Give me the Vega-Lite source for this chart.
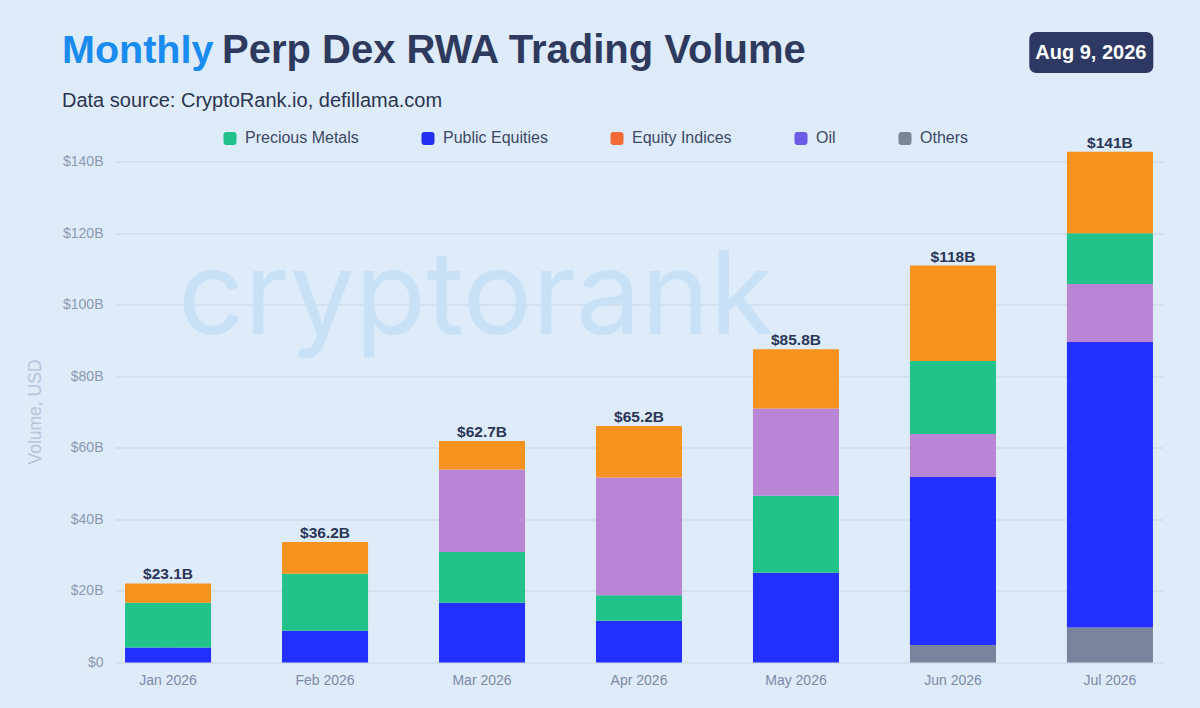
{
  "$schema": "https://vega.github.io/schema/vega-lite/v6.json",
  "width": 1048,
  "height": 515,
  "autosize": {"type": "none"},
  "padding": {"left": 115, "top": 147.5, "right": 37, "bottom": 45.5},
  "background": "#deebf8",
  "config": {"view": {"stroke": null}, "font": "Liberation Sans"},
  "title": {
    "text": "Monthly",
    "subtitle": "Data source: CryptoRank.io, defillama.com",
    "anchor": "start",
    "frame": "group",
    "dx": -53,
    "offset": -81,
    "font": "Liberation Sans",
    "fontSize": 39.5,
    "fontWeight": "bold",
    "color": "#1a8cf0",
    "subtitleFont": "Liberation Sans",
    "subtitleFontSize": 20,
    "subtitleColor": "#2b3550",
    "subtitlePadding": 20
  },
  "datasets": {
    "volumes": [
      {"month": "Jan 2026", "category": "Public Equities", "value": 4.2, "rank": 2},
      {"month": "Jan 2026", "category": "Precious Metals", "value": 12.5, "rank": 3},
      {"month": "Jan 2026", "category": "Equity Indices", "value": 5.4, "rank": 5},
      {"month": "Feb 2026", "category": "Public Equities", "value": 8.9, "rank": 2},
      {"month": "Feb 2026", "category": "Precious Metals", "value": 15.9, "rank": 3},
      {"month": "Feb 2026", "category": "Equity Indices", "value": 8.9, "rank": 5},
      {"month": "Mar 2026", "category": "Public Equities", "value": 16.7, "rank": 2},
      {"month": "Mar 2026", "category": "Precious Metals", "value": 14.2, "rank": 3},
      {"month": "Mar 2026", "category": "Oil", "value": 23.1, "rank": 4},
      {"month": "Mar 2026", "category": "Equity Indices", "value": 7.9, "rank": 5},
      {"month": "Apr 2026", "category": "Public Equities", "value": 11.7, "rank": 2},
      {"month": "Apr 2026", "category": "Precious Metals", "value": 7.1, "rank": 3},
      {"month": "Apr 2026", "category": "Oil", "value": 32.9, "rank": 4},
      {"month": "Apr 2026", "category": "Equity Indices", "value": 14.4, "rank": 5},
      {"month": "May 2026", "category": "Public Equities", "value": 25.1, "rank": 2},
      {"month": "May 2026", "category": "Precious Metals", "value": 21.5, "rank": 3},
      {"month": "May 2026", "category": "Oil", "value": 24.4, "rank": 4},
      {"month": "May 2026", "category": "Equity Indices", "value": 16.6, "rank": 5},
      {"month": "Jun 2026", "category": "Others", "value": 4.9, "rank": 1},
      {"month": "Jun 2026", "category": "Public Equities", "value": 47.0, "rank": 2},
      {"month": "Jun 2026", "category": "Oil", "value": 12.0, "rank": 3},
      {"month": "Jun 2026", "category": "Precious Metals", "value": 20.4, "rank": 4},
      {"month": "Jun 2026", "category": "Equity Indices", "value": 26.7, "rank": 5},
      {"month": "Jul 2026", "category": "Others", "value": 9.8, "rank": 1},
      {"month": "Jul 2026", "category": "Public Equities", "value": 79.8, "rank": 2},
      {"month": "Jul 2026", "category": "Oil", "value": 16.2, "rank": 3},
      {"month": "Jul 2026", "category": "Precious Metals", "value": 14.2, "rank": 4},
      {"month": "Jul 2026", "category": "Equity Indices", "value": 22.8, "rank": 5}
    ],
    "totals": [
      {"month": "Jan 2026", "label": "$23.1B"},
      {"month": "Feb 2026", "label": "$36.2B"},
      {"month": "Mar 2026", "label": "$62.7B"},
      {"month": "Apr 2026", "label": "$65.2B"},
      {"month": "May 2026", "label": "$85.8B"},
      {"month": "Jun 2026", "label": "$118B"},
      {"month": "Jul 2026", "label": "$141B"}
    ]
  },
  "data": {"name": "volumes"},
  "layer": [
    {
      "mark": {
        "type": "point",
        "filled": true,
        "opacity": 1,
        "size": 4,
        "yOffset": 5,
        "shape": "M -0.55 -1 L 0.55 -1 Q 1 -1 1 -0.55 L 1 0.55 Q 1 1 0.55 1 L -0.55 1 Q -1 1 -1 0.55 L -1 -0.55 Q -1 -1 -0.55 -1 Z"
      },
      "encoding": {
        "x": {
          "field": "month",
          "type": "nominal",
          "sort": ["Jan 2026", "Feb 2026", "Mar 2026", "Apr 2026", "May 2026", "Jun 2026", "Jul 2026"],
          "scale": {"type": "band", "paddingInner": 0.452, "paddingOuter": 0.064},
          "axis": {
            "title": null,
            "bandPosition": 0.5,
            "labelAngle": 0,
            "labelAlign": "center",
            "domain": false,
            "ticks": false,
            "labelPadding": 10.5,
            "labelFontSize": 14,
            "labelColor": "#7a8aa7",
            "labelFont": "Liberation Sans"
          }
        },
        "y": {"field": "value", "type": "quantitative", "stack": null, "scale": {"domain": [0, 144], "nice": false}},
        "color": {
          "field": "category",
          "type": "nominal",
          "scale": {
            "domain": ["Precious Metals", "Public Equities", "Equity Indices", "Oil", "Others"],
            "range": ["#22c08a", "#2431f2", "#f26b36", "#6b5be6", "#7a8598"]
          },
          "legend": {
            "orient": "none",
            "direction": "horizontal",
            "legendX": 107,
            "legendY": -116.1,
            "padding": 0,
            "title": "Perp Dex RWA Trading Volume",
            "titleFont": "Liberation Sans",
            "titleFontSize": 40,
            "titleFontWeight": "bold",
            "titleColor": "#2d3a5e",
            "titleLimit": 1000,
            "titlePadding": 59,
            "symbolType": "M -0.55 -1 L 0.55 -1 Q 1 -1 1 -0.55 L 1 0.55 Q 1 1 0.55 1 L -0.55 1 Q -1 1 -1 0.55 L -1 -0.55 Q -1 -1 -0.55 -1 Z",
            "symbolSize": 169,
            "symbolStrokeWidth": 0,
            "labelOffset": 7,
            "labelFont": "Liberation Sans",
            "labelFontSize": 16,
            "labelColor": "#3d4866",
            "columnPadding": 61
          }
        }
      }
    },
    {
      "mark": {"type": "bar"},
      "encoding": {
        "x": {
          "field": "month",
          "type": "nominal",
          "sort": ["Jan 2026", "Feb 2026", "Mar 2026", "Apr 2026", "May 2026", "Jun 2026", "Jul 2026"],
          "scale": {"type": "band", "paddingInner": 0.452, "paddingOuter": 0.064},
          "axis": {
            "title": null,
            "bandPosition": 0.5,
            "labelAngle": 0,
            "labelAlign": "center",
            "domain": false,
            "ticks": false,
            "labelPadding": 10.5,
            "labelFontSize": 14,
            "labelColor": "#7a8aa7",
            "labelFont": "Liberation Sans"
          }
        },
        "y": {
          "field": "value",
          "type": "quantitative",
          "stack": "zero",
          "scale": {"domain": [0, 144], "nice": false},
          "axis": {
            "values": [0, 20, 40, 60, 80, 100, 120, 140],
            "labelExpr": "datum.value == 0 ? '$0' : '$' + datum.value + 'B'",
            "title": "Volume, USD",
            "grid": true,
            "gridColor": "#cfdcea",
            "gridWidth": 1.5,
            "domain": false,
            "ticks": false,
            "labelPadding": 12,
            "labelFontSize": 14,
            "labelColor": "#8b99b1",
            "labelFont": "Liberation Sans",
            "titleColor": "#b4c4d9",
            "titleFont": "Liberation Sans",
            "titleFontSize": 17.5,
            "titleFontWeight": "normal",
            "titleX": -75,
            "titleY": 264,
            "titleBaseline": "alphabetic"
          }
        },
        "fill": {
          "field": "category",
          "type": "nominal",
          "scale": {
            "domain": ["Precious Metals", "Public Equities", "Equity Indices", "Oil", "Others"],
            "range": ["#22c38a", "#2330ff", "#f7931e", "#bb85d6", "#78849b"]
          },
          "legend": null
        },
        "order": {"field": "rank", "type": "quantitative"}
      }
    },
    {
      "transform": [
        {"aggregate": [{"op": "sum", "field": "value", "as": "top"}], "groupby": ["month"]},
        {"lookup": "month", "from": {"data": {"name": "totals"}, "key": "month", "fields": ["label"]}}
      ],
      "mark": {"type": "text", "baseline": "alphabetic", "dy": -4, "fontSize": 15.5, "fontWeight": "bold", "color": "#2b3658", "font": "Liberation Sans"},
      "encoding": {
        "x": {
          "field": "month",
          "type": "nominal",
          "sort": ["Jan 2026", "Feb 2026", "Mar 2026", "Apr 2026", "May 2026", "Jun 2026", "Jul 2026"]
        },
        "y": {"field": "top", "type": "quantitative", "scale": {"domain": [0, 144], "nice": false}},
        "text": {"field": "label", "type": "nominal"}
      }
    },
    {
      "data": {"name": "totals"},
      "mark": {"type": "point", "opacity": 0, "size": 841},
      "encoding": {
        "shape": {
          "datum": "Aug 9, 2026",
          "scale": {"range": ["M 0 -1 L 0 1"]},
          "legend": {
            "orient": "none",
            "legendX": 914.3,
            "legendY": -115.5,
            "title": null,
            "fillColor": "#2d3963",
            "cornerRadius": 7,
            "padding": 6,
            "labelColor": "#ffffff",
            "labelFont": "Liberation Sans",
            "labelFontSize": 20,
            "labelFontWeight": "bold",
            "labelOffset": -29,
            "symbolSize": 841,
            "symbolOpacity": 0,
            "symbolStrokeWidth": 0
          }
        }
      }
    },
    {
      "data": {"name": "totals"},
      "mark": {"type": "point", "size": 0},
      "encoding": {
        "opacity": {
          "datum": "cryptorank",
          "type": "ordinal",
          "scale": {"range": [0, 0]},
          "legend": {
            "orient": "none",
            "legendX": 63,
            "legendY": 94,
            "padding": 0,
            "title": "cryptorank",
            "titleFont": "Inter",
            "titleFontSize": 116,
            "titleFontWeight": "normal",
            "titleColor": "#c9e1f7",
            "titleLimit": 1000,
            "titlePadding": 0,
            "labelExpr": "''",
            "symbolSize": 0,
            "symbolOpacity": 0,
            "symbolStrokeWidth": 0,
            "zindex": 0
          }
        }
      }
    }
  ]
}
